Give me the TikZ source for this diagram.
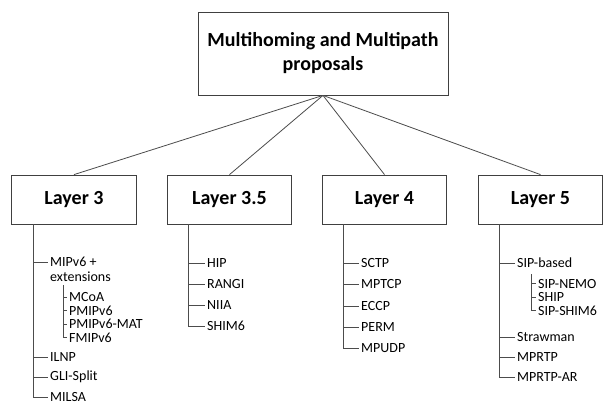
\documentclass[tikz,border=0pt]{standalone}
\usepackage{fontspec}
\setmainfont{Carlito}
\begin{document}
\begin{tikzpicture}[x=1pt,y=-1pt,
  topbox/.style={draw=black!75, line width=0.8pt, minimum width=250pt, minimum height=83pt, inner sep=0pt, align=center, font=\fontsize{20}{24}\selectfont\bfseries},
  box/.style={draw=black!75, line width=0.8pt, minimum width=124.5pt, minimum height=49pt, inner sep=0pt, font=\fontsize{20}{24}\selectfont\bfseries},
  leaf/.style={anchor=west, inner xsep=2pt, inner ysep=0pt, font=\fontsize{14}{16}\selectfont},
  link/.style={draw=black!70, line width=0.8pt}]
\clip (0,0) rectangle (604,402);
\useasboundingbox (0,0) rectangle (604,402);
\fill[white] (0,0) rectangle (604,402);

\node[topbox] (top) at (323,53.5) {Multihoming and Multipath\\proposals};

\node[box] (L3) at (74,199.5) {Layer 3};
\node[box] (L35) at (229.5,199.5) {Layer 3.5};
\node[box] (L4) at (384.5,199.5) {Layer 4};
\node[box] (L5) at (540.5,199.5) {Layer 5};

\foreach \n in {L3,L35,L4,L5} \draw[link] (top.south) -- (\n.north);

% Layer 3
\coordinate (t3) at (33,224);
\node[leaf] (mip) at (48,262) {MIPv6 +};
\node[leaf] (mipx) at (48,277) {extensions};
\node[leaf] (ilnp) at (48,357) {ILNP};
\node[leaf] (gli) at (48,377) {GLI-Split};
\node[leaf] (milsa) at (48,397) {MILSA};
\foreach \n in {mip,ilnp,gli,milsa} \draw[link] (t3) |- (\n.west);
\coordinate (s3) at (63,285);
\node[leaf] (mcoa) at (67,297) {MCoA};
\node[leaf] (pmip) at (67,310.5) {PMIPv6};
\node[leaf] (pmipmat) at (67,324) {PMIPv6-MAT};
\node[leaf] (fmip) at (67,337.5) {FMIPv6};
\foreach \n in {mcoa,pmip,pmipmat,fmip} \draw[link] (s3) |- (\n.west);

% Layer 3.5
\coordinate (t35) at (188,224);
\node[leaf] (hip) at (205,263) {HIP};
\node[leaf] (rangi) at (205,284) {RANGI};
\node[leaf] (niia) at (205,305) {NIIA};
\node[leaf] (shim) at (205,326) {SHIM6};
\foreach \n in {hip,rangi,niia,shim} \draw[link] (t35) |- (\n.west);

% Layer 4
\coordinate (t4) at (343.5,224);
\node[leaf] (sctp) at (359,263) {SCTP};
\node[leaf] (mptcp) at (359,284) {MPTCP};
\node[leaf] (eccp) at (359,306) {ECCP};
\node[leaf] (perm) at (359,327) {PERM};
\node[leaf] (mpudp) at (359,348) {MPUDP};
\foreach \n in {sctp,mptcp,eccp,perm,mpudp} \draw[link] (t4) |- (\n.west);

% Layer 5
\coordinate (t5) at (499,224);
\node[leaf] (sip) at (515,263) {SIP-based};
\node[leaf] (straw) at (515,337) {Strawman};
\node[leaf] (mprtp) at (515,357) {MPRTP};
\node[leaf] (mprtpar) at (515,377) {MPRTP-AR};
\foreach \n in {sip,straw,mprtp,mprtpar} \draw[link] (t5) |- (\n.west);
\coordinate (s5) at (531,274);
\node[leaf] (nemo) at (536,283.5) {SIP-NEMO};
\node[leaf] (ship) at (536,297) {SHIP};
\node[leaf] (sipshim) at (536,310.5) {SIP-SHIM6};
\foreach \n in {nemo,ship,sipshim} \draw[link] (s5) |- (\n.west);
\end{tikzpicture}
\end{document}
